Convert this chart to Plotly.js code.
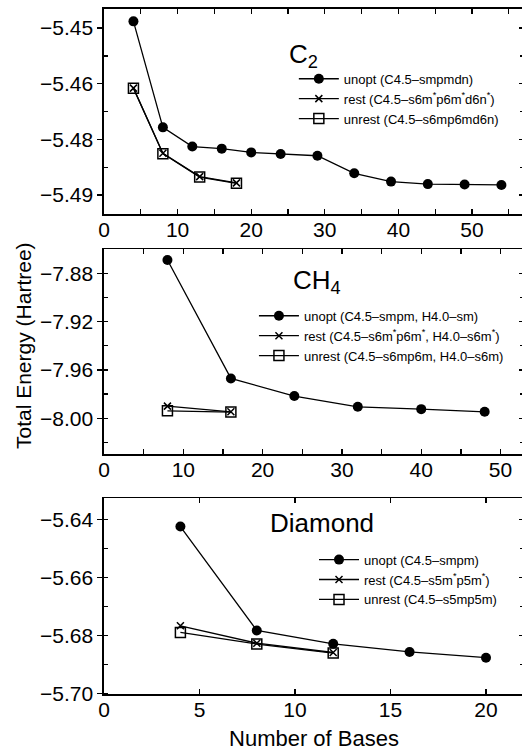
<!DOCTYPE html>
<html>
<head>
<meta charset="utf-8">
<script src="https://cdn.plot.ly/plotly-3.0.1.min.js"></script>
<style>html,body{margin:0;padding:0;overflow:hidden;background:#fff}</style>
</head>
<body>
<div id="chart"></div>
<script>
// ---- data ----
const c2UnoptX = [4, 8, 12, 16, 20, 24, 29, 34, 39, 44, 49, 54];
const c2UnoptY = [-5.4484, -5.4738, -5.4784, -5.4789, -5.4798, -5.4802, -5.4806, -5.4848, -5.4868, -5.4874, -5.4875, -5.4876];
const c2RestX = [4, 8, 13, 18];
const c2RestY = [-5.4644, -5.4800, -5.4856, -5.4871];
const c2UnrestX = [4, 8, 13, 18];
const c2UnrestY = [-5.4644, -5.4801, -5.4857, -5.4872];

const ch4UnoptX = [8, 16, 24, 32, 40, 48];
const ch4UnoptY = [-7.869, -7.967, -7.9816, -7.9905, -7.9924, -7.9946];
const ch4RestX = [8, 16];
const ch4RestY = [-7.9899, -7.9946];
const ch4UnrestX = [8, 16];
const ch4UnrestY = [-7.9938, -7.9948];

const diaUnoptX = [4, 8, 12, 16, 20];
const diaUnoptY = [-5.6425, -5.6783, -5.6829, -5.6857, -5.6877];
const diaRestX = [4, 8, 12];
const diaRestY = [-5.6767, -5.6827, -5.6859];
const diaUnrestX = [4, 8, 12];
const diaUnrestY = [-5.679, -5.683, -5.6861];

const c2Names = ["unopt (C4.5–smpmdn)", "rest (C4.5–s6m<sup>*</sup>p6m<sup>*</sup>d6n<sup>*</sup>)", "unrest (C4.5–s6mp6md6n)"];
const ch4Names = ["unopt (C4.5–smpm, H4.0–sm)", "rest (C4.5–s6m<sup>*</sup>p6m<sup>*</sup>, H4.0–s6m<sup>*</sup>)", "unrest (C4.5–s6mp6m, H4.0–s6m)"];
const diaNames = ["unopt (C4.5–smpm)", "rest (C4.5–s5m<sup>*</sup>p5m<sup>*</sup>)", "unrest (C4.5–s5mp5m)"];

const c2TickVals = [-5.45, -5.4633333, -5.4766667, -5.49];
const c2TickText = ["−5.45", "−5.46", "−5.48", "−5.49"];
const c2MinorVals = [-5.4566667, -5.47, -5.4833333];
const panelTitles = ["C<sub>2</sub>", "CH<sub>4</sub>", "Diamond"];

// ---- styles ----
const FONT = "Liberation Sans, Arial, Helvetica, sans-serif";
const lineStyle = {color: "black", width: 1.3};
const mUnopt = {symbol: "circle", size: 10, color: "black"};
const mRest = {symbol: "x-thin-open", size: 7, color: "black", line: {color: "black", width: 1.5}};
const mUnrest = {symbol: "square-open", size: 10, color: "black", line: {color: "black", width: 1.5}};

function tr(x, y, name, marker, ax, leg) {
  return {x: x, y: y, name: name, type: "scatter", mode: "lines+markers",
    line: lineStyle, marker: marker, xaxis: ax[0], yaxis: ax[1], legend: leg};
}
function dummy(xa, ya) {
  return {x: [null], y: [null], xaxis: xa, yaxis: ya, showlegend: false, hoverinfo: "skip", mode: "markers"};
}

const data = [
  tr(c2UnoptX, c2UnoptY, c2Names[0], mUnopt, ["x", "y"], "legend"),
  tr(c2RestX, c2RestY, c2Names[1], mRest, ["x", "y"], "legend"),
  tr(c2UnrestX, c2UnrestY, c2Names[2], mUnrest, ["x", "y"], "legend"),
  tr(ch4UnoptX, ch4UnoptY, ch4Names[0], mUnopt, ["x2", "y2"], "legend2"),
  tr(ch4RestX, ch4RestY, ch4Names[1], mRest, ["x2", "y2"], "legend2"),
  tr(ch4UnrestX, ch4UnrestY, ch4Names[2], mUnrest, ["x2", "y2"], "legend2"),
  tr(diaUnoptX, diaUnoptY, diaNames[0], mUnopt, ["x3", "y3"], "legend3"),
  tr(diaRestX, diaRestY, diaNames[1], mRest, ["x3", "y3"], "legend3"),
  tr(diaUnrestX, diaUnrestY, diaNames[2], mUnrest, ["x3", "y3"], "legend3"),
  dummy("x", "y4"), dummy("x2", "y5"), dummy("x3", "y6")
];

const tickFont = {family: FONT, size: 21, color: "black"};

function xAx(range, dtick, minorDtick, anchor) {
  const a = {range: range, dtick: dtick, tick0: 0, anchor: anchor, showgrid: false, zeroline: false,
    showline: true, linecolor: "black", linewidth: 1.6, mirror: "ticks",
    ticks: "inside", ticklen: 5, tickwidth: 1.3, tickcolor: "black", tickfont: tickFont,
    ticklabelstandoff: -4};
  if (minorDtick) a.minor = {dtick: minorDtick, tick0: 0, ticks: "inside", ticklen: 5, tickwidth: 1.3, tickcolor: "black", showgrid: false};
  return a;
}
function yAx(range, domain, anchor, opts) {
  return Object.assign({range: range, domain: domain, anchor: anchor, showgrid: false, zeroline: false,
    showline: true, linecolor: "black", linewidth: 1.6, mirror: true,
    ticks: "outside", ticklen: 5, tickwidth: 1.3, tickcolor: "black", tickfont: tickFont}, opts);
}
function yRight(base, overlay) {
  const r = {range: base.range, overlaying: overlay, side: "right", anchor: base.anchor,
    showgrid: false, zeroline: false, showline: false, showticklabels: false,
    ticks: "inside", ticklen: 5, tickwidth: 1.3, tickcolor: "black"};
  ["tickmode", "tickvals", "dtick", "tick0"].forEach(k => { if (base[k] !== undefined) r[k] = base[k]; });
  r.minor = Object.assign({}, base.minor, {ticks: "inside", ticklen: 4});
  return r;
}

const y1 = yAx([-5.49463, -5.44544], [0.7003, 1], "x",
  {tickmode: "array", tickvals: c2TickVals, ticktext: c2TickText,
   minor: {tickmode: "array", tickvals: c2MinorVals, ticks: "inside", ticklen: 4, tickwidth: 1.3, tickcolor: "black", showgrid: false}});
const y2 = yAx([-8.0298, -7.86014], [0.3499, 0.6492], "x2",
  {dtick: 0.04, tick0: -8, tickformat: ".2f",
   minor: {dtick: 0.02, tick0: -8, ticks: "inside", ticklen: 4, tickwidth: 1.3, tickcolor: "black", showgrid: false}});
const y3 = yAx([-5.7002, -5.63276], [0, 0.2857], "x3",
  {dtick: 0.02, tick0: -5.7, tickformat: ".2f",
   minor: {dtick: 0.01, tick0: -5.7, ticks: "inside", ticklen: 4, tickwidth: 1.3, tickcolor: "black", showgrid: false}});

const legendBase = {bgcolor: "rgba(0,0,0,0)", borderwidth: 0, xanchor: "left", yanchor: "top",
  font: {family: FONT, size: 13, color: "black"}, itemwidth: 40, tracegroupgap: 0};

const titleFont = {family: FONT, size: 26, color: "black"};

const layout = {
  width: 524, height: 751,
  margin: {l: 104, r: 0, t: 9, b: 57},
  paper_bgcolor: "white", plot_bgcolor: "white",
  font: {family: FONT, color: "black"},
  xaxis: xAx([0, 57.07], 10, 5, "y"),
  xaxis2: xAx([0, 52.96], 10, 5, "y2"),
  xaxis3: Object.assign(xAx([0, 21.99], 5, null, "y3"),
    {title: {text: "Number of Bases", font: {family: FONT, size: 22, color: "black"}, standoff: 12}}),
  yaxis: y1, yaxis2: y2, yaxis3: y3,
  yaxis4: yRight(y1, "y"), yaxis5: yRight(y2, "y2"), yaxis6: yRight(y3, "y3"),
  legend: Object.assign({x: 0.452, y: 0.92}, legendBase),
  legend2: Object.assign({x: 0.357, y: 0.574}, legendBase),
  legend3: Object.assign({x: 0.50, y: 0.218}, legendBase),
  annotations: [
    {text: panelTitles[0], xref: "x domain", yref: "y domain", x: 0.474, y: 0.772,
     xanchor: "center", yanchor: "middle", showarrow: false, font: titleFont},
    {text: panelTitles[1], xref: "x2 domain", yref: "y2 domain", x: 0.508, y: 0.845,
     xanchor: "center", yanchor: "middle", showarrow: false, font: titleFont},
    {text: panelTitles[2], xref: "x3 domain", yref: "y3 domain", x: 0.518, y: 0.876,
     xanchor: "center", yanchor: "middle", showarrow: false, font: titleFont},
    {text: "Total Energy (Hartree)", xref: "paper", yref: "paper", x: 0, xshift: -81, y: 0.508,
     xanchor: "center", yanchor: "middle", textangle: -90, showarrow: false,
     font: {family: FONT, size: 21, color: "black"}}
  ],
  showlegend: true
};

Plotly.newPlot("chart", data, layout, {displayModeBar: false, staticPlot: true});
</script>
</body>
</html>
